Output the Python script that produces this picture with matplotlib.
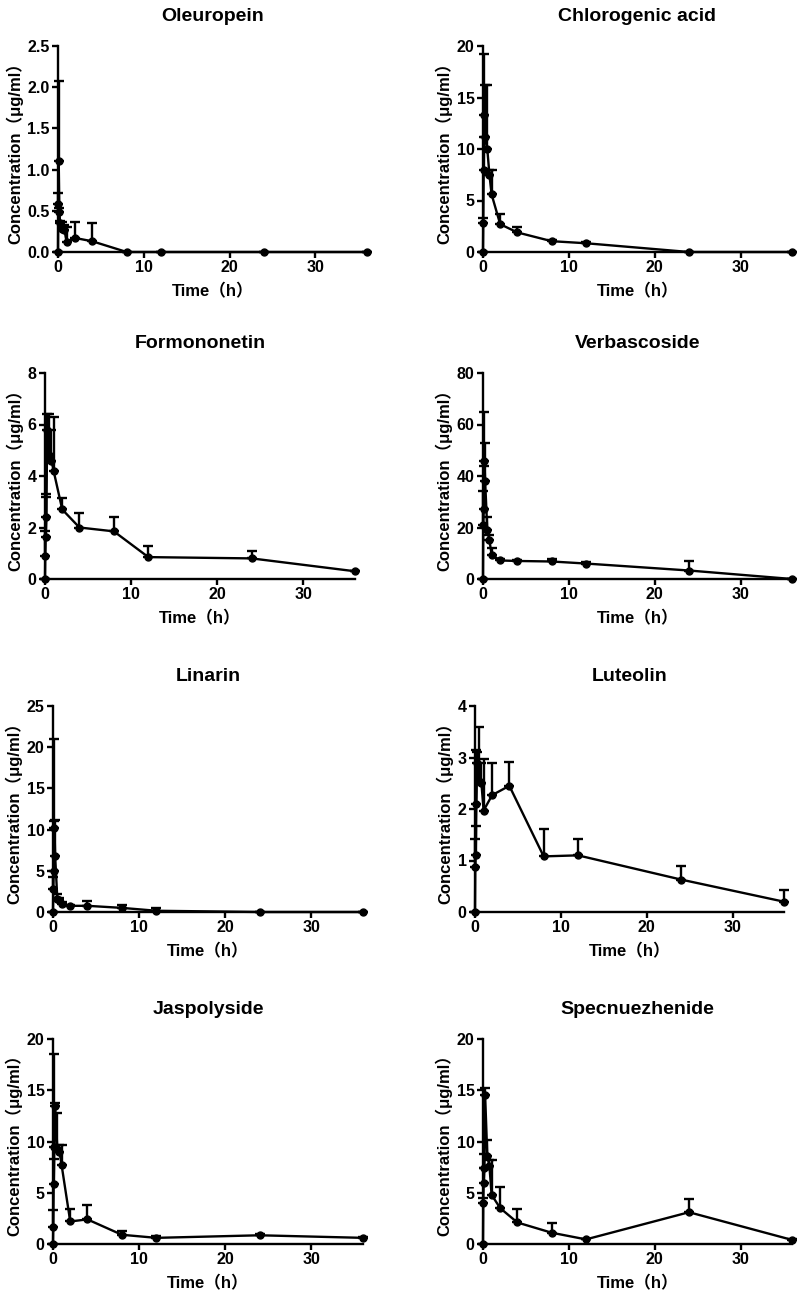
import matplotlib
matplotlib.use("Agg")
import matplotlib.pyplot as plt

plt.rcParams['font.family'] = ['Liberation Sans', 'Noto Sans CJK SC', 'DejaVu Sans']
plt.rcParams['font.weight'] = 'bold'

# sampling times (h)
time_h = [0, 0.033, 0.083, 0.167, 0.25, 0.5, 0.75, 1, 2, 4, 8, 12, 24, 36]

# mean concentration and upper SD for each compound (ug/ml)
oleuropein_mean = [0, 0.58, 1.10, 0.48, 0.35, 0.28, 0.27, 0.12, 0.17, 0.13, 0, 0, 0, 0]
oleuropein_sd = [0, 0.14, 0.97, 0.05, 0.03, 0.08, 0.06, 0.18, 0.19, 0.22, 0, 0, 0, 0]

chlorogenic_mean = [0, 2.8, 8.0, 13.3, 11.2, 10.0, 7.5, 5.6, 2.7, 1.9, 1.05, 0.85, 0, 0]
chlorogenic_sd = [0, 0.5, 3.2, 5.9, 5.0, 6.2, 0.5, 2.4, 1.0, 0.5, 0.1, 0.1, 0, 0]

formononetin_mean = [0, 0.9, 1.65, 2.4, 5.8, 4.8, 4.6, 4.2, 2.7, 2.0, 1.85, 0.85, 0.8, 0.3]
formononetin_sd = [0, 0.95, 1.55, 0.9, 0.6, 1.6, 1.2, 2.1, 0.45, 0.55, 0.55, 0.45, 0.3, 0.03]

verbascoside_mean = [0, 21, 27, 46, 38, 19, 15, 9.5, 7.2, 7.0, 6.8, 6.0, 3.3, 0]
verbascoside_sd = [0, 13, 17, 19, 15, 5, 2, 2.5, 0.5, 0.5, 1.0, 0.5, 3.8, 0]

linarin_mean = [0, 2.8, 5.0, 10.2, 6.8, 1.6, 1.4, 1.0, 0.75, 0.75, 0.5, 0.15, 0, 0]
linarin_sd = [0, 1.5, 6.0, 10.8, 4.4, 0.6, 0.3, 0.2, 0.1, 0.6, 0.4, 0.35, 0, 0]

luteolin_mean = [0, 0.87, 1.1, 2.1, 2.9, 2.55, 2.5, 1.97, 2.27, 2.45, 1.08, 1.1, 0.63, 0.2]
luteolin_sd = [0, 0.55, 0.57, 1.05, 0.2, 1.05, 0.4, 1.0, 0.62, 0.47, 0.53, 0.32, 0.27, 0.23]

jaspolyside_mean = [0, 1.7, 5.9, 9.5, 13.5, 9.3, 9.0, 7.7, 2.2, 2.4, 0.9, 0.6, 0.85, 0.6]
jaspolyside_sd = [0, 1.6, 2.4, 9.0, 0.3, 3.5, 0.7, 2.0, 1.2, 1.45, 0.35, 0.2, 0.1, 0.05]

specnuezhenide_mean = [0, 4.0, 6.0, 7.4, 14.5, 8.6, 7.6, 4.8, 3.5, 2.1, 1.1, 0.45, 3.1, 0.4]
specnuezhenide_sd = [0, 0.5, 1.4, 1.4, 0.7, 1.5, 0.6, 3.4, 2.1, 1.3, 0.95, 0, 1.25, 0.05]

titles = ["Oleuropein", "Chlorogenic acid", "Formononetin", "Verbascoside",
          "Linarin", "Luteolin", "Jaspolyside", "Specnuezhenide"]
means = [oleuropein_mean, chlorogenic_mean, formononetin_mean, verbascoside_mean,
         linarin_mean, luteolin_mean, jaspolyside_mean, specnuezhenide_mean]
sds = [oleuropein_sd, chlorogenic_sd, formononetin_sd, verbascoside_sd,
       linarin_sd, luteolin_sd, jaspolyside_sd, specnuezhenide_sd]
y_max = [2.5, 20, 8, 80, 25, 4, 20, 20]
y_step = [0.5, 5, 2, 20, 5, 1, 5, 5]
y_fmt = ["{:.1f}", "{:.0f}", "{:.0f}", "{:.0f}", "{:.0f}", "{:.0f}", "{:.0f}", "{:.0f}"]

W, H = 800, 1296
fig = plt.figure(figsize=(W / 100, H / 100), dpi=100)

# panel boxes in pixels: left, right, top, bottom
boxes = [(58, 367, 46, 252), (483, 792, 46, 252),
         (45, 355, 373, 579), (483, 792, 373, 579),
         (53, 363, 706, 912), (475, 784, 706, 912),
         (53, 363, 1039, 1244), (483, 792, 1039, 1244)]

for i in range(8):
    l, r, t, b = boxes[i]
    ax = fig.add_axes([l / W, 1 - b / H, (r - l) / W, (b - t) / H])
    ax.errorbar(time_h, means[i], yerr=[[0] * len(sds[i]), sds[i]],
                color='black', lw=1.7, marker='o', ms=5, capsize=3.5,
                capthick=1.7, elinewidth=1.7, clip_on=False, zorder=3)
    ax.set_xlim(0, 36)
    ax.set_ylim(0, y_max[i])
    ax.set_xticks([0, 10, 20, 30])
    n = int(round(y_max[i] / y_step[i]))
    yt = [k * y_step[i] for k in range(n + 1)]
    ax.set_yticks(yt)
    ax.set_yticklabels([y_fmt[i].format(v) for v in yt])
    for s in ['top', 'right']:
        ax.spines[s].set_visible(False)
    for s in ['left', 'bottom']:
        ax.spines[s].set_linewidth(1.7)
    ax.tick_params(direction='out', length=4, width=1.7, labelsize=11.5, pad=2)
    for lab in ax.get_xticklabels() + ax.get_yticklabels():
        lab.set_fontweight('bold')
    ax.set_title(titles[i], fontsize=14, fontweight='bold', pad=18)
    ax.set_xlabel("Time（h）", fontsize=12, fontweight='bold', labelpad=6)
    ax.set_ylabel("Concentration（μg/ml）", fontsize=12, fontweight='bold', labelpad=3)

fig.savefig("out.png", dpi=100)
